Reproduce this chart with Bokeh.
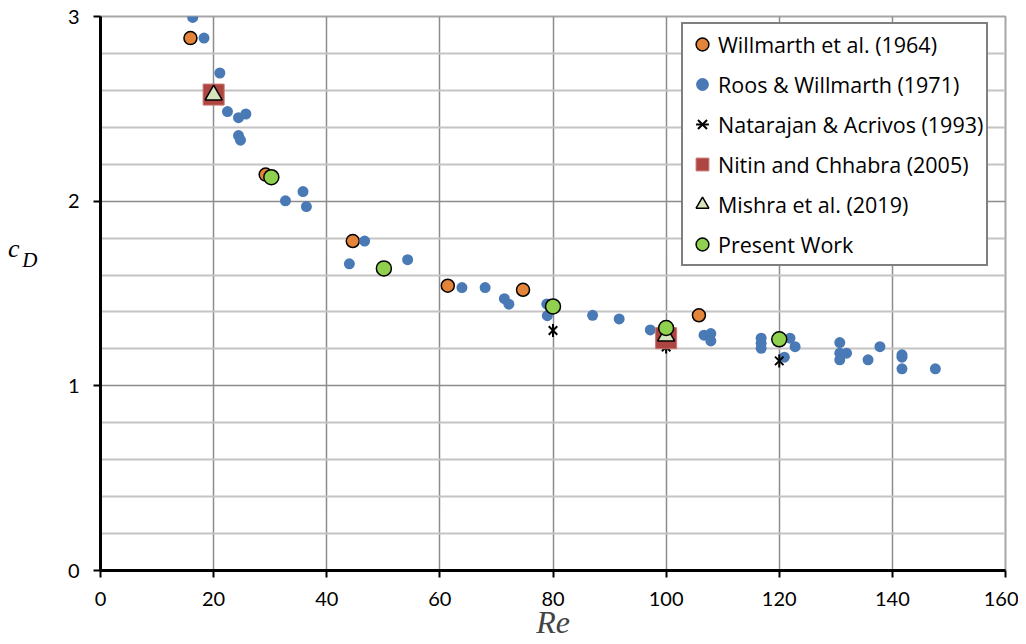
import numpy as np
from bokeh.plotting import figure
from bokeh.models import Range1d, FixedTicker, Legend, LegendItem, LinearAxis
from bokeh.embed import file_html
from bokeh.resources import INLINE

# ---- data ----
will_re = [15.9, 29.2, 44.6, 61.4, 74.7, 105.8]
will_cd = [2.883, 2.144, 1.784, 1.542, 1.52, 1.382]

roos_re = [16.3, 18.3, 21.1, 22.45, 24.4, 25.7, 24.4, 24.75, 32.7, 35.8, 36.4,
           46.7, 44.0, 54.3, 63.9, 68.0, 71.4, 72.2, 78.9, 79.0, 87.0, 91.7,
           97.2, 106.7, 107.9, 107.9, 116.8, 116.8, 116.8, 121.9, 122.8, 120.9,
           130.7, 130.7, 131.9, 130.7, 135.7, 137.8, 141.7, 141.7, 141.7, 147.6]
roos_cd = [2.995, 2.883, 2.694, 2.485, 2.452, 2.472, 2.355, 2.33, 2.002, 2.052, 1.971,
           1.784, 1.661, 1.683, 1.532, 1.532, 1.472, 1.442, 1.443, 1.38, 1.382, 1.362,
           1.303, 1.274, 1.283, 1.243, 1.258, 1.23, 1.203, 1.258, 1.212, 1.155,
           1.234, 1.177, 1.177, 1.141, 1.141, 1.212, 1.168, 1.155, 1.092, 1.092]

nat_re = [80, 100, 120]
nat_cd = [1.30, 1.21, 1.135]

nitin_re = [20, 100]
nitin_cd = [2.577, 1.258]

mishra_re = [20, 100]
mishra_cd = [2.575, 1.27]

present_re = [30.2, 50.1, 80, 100, 120]
present_cd = [2.13, 1.636, 1.43, 1.313, 1.252]

x_ticks = [0, 20, 40, 60, 80, 100, 120, 140, 160]
y_ticks = [0, 1, 2, 3]
y_minor = [0.2, 0.4, 0.6, 0.8, 1.2, 1.4, 1.6, 1.8, 2.2, 2.4, 2.6, 2.8]

x_title = "Re"
y_title_main = "c"
y_title_sub = "D"

legend_labels = ["Willmarth et al. (1964)", "Roos & Willmarth (1971)",
                 "Natarajan & Acrivos (1993)", "Nitin and Chhabra (2005)",
                 "Mishra et al. (2019)", "Present Work"]

TICK_FONT = "Lato"
LEG_FONT = "Open Sans"
MATH_FONT = "Liberation Serif"

W, H = 1018, 642
p = figure(width=W, height=H, output_backend="svg", toolbar_location=None,
           x_range=Range1d(0, 160), y_range=Range1d(0, 3),
           min_border_left=100, min_border_right=13, min_border_top=16,
           min_border_bottom=71)
p.background_fill_color = "white"
p.border_fill_color = "white"
p.outline_line_color = "#a6a6a6"
p.outline_line_width = 2

p.xaxis.ticker = FixedTicker(ticks=x_ticks)
p.yaxis.ticker = FixedTicker(ticks=y_ticks, minor_ticks=y_minor)

for ax in (p.xaxis[0], p.yaxis[0]):
    ax.axis_line_color = "black"
    ax.axis_line_width = 3
    ax.major_tick_line_color = "black"
    ax.major_tick_line_width = 2
    ax.major_tick_out = 7
    ax.major_tick_in = 0
    ax.minor_tick_line_color = None
    ax.major_label_text_font = TICK_FONT
    ax.major_label_text_font_size = "20px"
    ax.major_label_text_color = "black"

p.xaxis.major_label_standoff = 14
p.xaxis.major_label_text_line_height = 0.9
p.yaxis.major_label_standoff = 14
p.xaxis.axis_label = x_title
p.xaxis.axis_label_text_font = MATH_FONT
p.xaxis.axis_label_text_font_style = "italic"
p.xaxis.axis_label_text_font_size = "32px"
p.xaxis.axis_label_text_line_height = 0.8
p.xaxis.axis_label_standoff = -5

# y-axis title "c_D": two label-only axes whose single tick label is the text
def label_axis(text, at, size, standoff):
    ax = LinearAxis(ticker=FixedTicker(ticks=[at]), axis_line_color=None,
                    major_tick_line_color=None, minor_tick_line_color=None,
                    major_tick_out=0, major_tick_in=0, minor_tick_out=0,
                    major_label_overrides={at: text})
    ax.major_label_text_font = MATH_FONT
    ax.major_label_text_font_style = "italic"
    ax.major_label_text_font_size = size
    ax.major_label_text_color = "black"
    ax.major_label_standoff = standoff
    return ax

p.add_layout(label_axis(y_title_sub, 1.682, "21px", 27), "left")
p.add_layout(label_axis(y_title_main, 1.742, "26px", 0), "left")

p.xgrid.grid_line_color = "#8c8c8c"
p.xgrid.grid_line_width = 1.5
p.ygrid.grid_line_color = "#8c8c8c"
p.ygrid.grid_line_width = 1.5
p.ygrid.minor_grid_line_color = "#c4c4c4"
p.ygrid.minor_grid_line_width = 2

r_will = p.scatter(will_re, will_cd, marker="circle", size=13,
                   fill_color="#E3843A", line_color="black", line_width=1.5)
r_roos = p.scatter(roos_re, roos_cd, marker="circle", size=11,
                   fill_color="#4A7AB5", line_color=None)
r_nat1 = p.scatter(nat_re, nat_cd, marker="x", size=12,
                   line_color="black", line_width=2)
r_nat2 = p.scatter(nat_re, nat_cd, marker="dash", size=13, angle=np.pi / 2,
                   line_color="black", line_width=2)
r_nit = p.scatter(nitin_re, nitin_cd, marker="square", size=21,
                  fill_color="#AD4541", line_color="#C8736F", line_width=1)
r_mis = p.scatter(mishra_re, mishra_cd, marker="triangle", size=17,
                  fill_color="#D7E4BD", line_color="black", line_width=1.5)
r_pre = p.scatter(present_re, present_cd, marker="circle", size=15,
                  fill_color="#8FD14F", line_color="black", line_width=1.5)

items = [LegendItem(label=legend_labels[0], renderers=[r_will]),
         LegendItem(label=legend_labels[1], renderers=[r_roos]),
         LegendItem(label=legend_labels[2], renderers=[r_nat1, r_nat2]),
         LegendItem(label=legend_labels[3], renderers=[r_nit]),
         LegendItem(label=legend_labels[4], renderers=[r_mis]),
         LegendItem(label=legend_labels[5], renderers=[r_pre])]
legend = Legend(items=items, location=(581, 304))
legend.label_text_font = LEG_FONT
legend.label_text_font_size = "21.5px"
legend.label_text_color = "black"
legend.border_line_color = "black"
legend.border_line_width = 2
legend.background_fill_alpha = 1
legend.label_height = 34
legend.glyph_height = 34
legend.glyph_width = 32
legend.spacing = 6
legend.padding = 3
legend.label_standoff = 0
legend.margin = 0
p.add_layout(legend)

open("out.html", "w").write(file_html(p, INLINE))
